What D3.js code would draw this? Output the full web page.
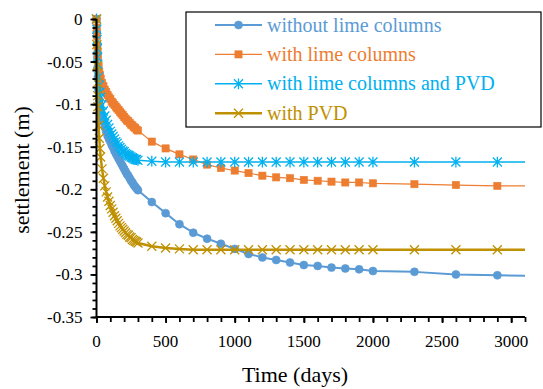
<!DOCTYPE html>
<html>
<head>
<meta charset="utf-8">
<script src="https://cdn.jsdelivr.net/npm/d3@7"></script>
<style>
  html, body { margin: 0; padding: 0; background: #fff; }
  #wrap { position: relative; width: 543px; height: 389px; }
  #chart { position: absolute; left: 0; top: 0; display: block; }
  #xTitle { position: absolute; left: 0; width: 590px; top: 362px; text-align: center;
    font-family: "Liberation Serif"; font-size: 22px; line-height: 26px; color: #000; white-space: nowrap; }
</style>
</head>
<body>
<div id="wrap">
  <svg id="chart" width="543" height="389"></svg>
  <div id="xTitle"></div>
</div>
<script>
// Time steps (days) shared by all four settlement series
const days = [0, 2, 4, 6, 8, 10, 15, 20, 25, 30, 40, 50, 60, 70, 80, 90, 100, 110, 120, 130,
  140, 150, 160, 170, 180, 190, 200, 210, 220, 230, 240, 250, 260, 270, 280, 290, 300,
  400, 500, 600, 700, 800, 900, 1000, 1100, 1200, 1300, 1400, 1500, 1600, 1700, 1800, 1900, 2000,
  2300, 2600, 2900, 3200];

// Settlement (m), one value per time step
const withoutLime = [0, -0.015, -0.03, -0.045, -0.057, -0.068, -0.084, -0.095, -0.101, -0.107,
  -0.115, -0.121, -0.127, -0.132, -0.137, -0.141, -0.144, -0.148, -0.151, -0.155,
  -0.158, -0.161, -0.164, -0.167, -0.170, -0.173, -0.176, -0.179, -0.182, -0.184,
  -0.187, -0.190, -0.192, -0.195, -0.197, -0.199, -0.201,
  -0.215, -0.228, -0.241, -0.251, -0.258, -0.264, -0.270, -0.276, -0.280, -0.283, -0.286, -0.289,
  -0.290, -0.292, -0.293, -0.294, -0.296, -0.297, -0.300, -0.301, -0.302];

const withLime = [0, -0.010, -0.020, -0.030, -0.038, -0.045, -0.055, -0.062, -0.066, -0.070,
  -0.075, -0.079, -0.083, -0.086, -0.089, -0.092, -0.094, -0.097, -0.099, -0.101,
  -0.103, -0.105, -0.107, -0.109, -0.111, -0.113, -0.115, -0.117, -0.119, -0.120,
  -0.122, -0.124, -0.125, -0.127, -0.128, -0.130, -0.131,
  -0.144, -0.152, -0.159, -0.165, -0.171, -0.175, -0.178, -0.181, -0.184, -0.186, -0.187, -0.189,
  -0.190, -0.191, -0.192, -0.192, -0.193, -0.194, -0.195, -0.196, -0.196];

const withLimePVD = [0, -0.012, -0.024, -0.035, -0.045, -0.053, -0.068, -0.078, -0.086, -0.092,
  -0.101, -0.108, -0.114, -0.119, -0.124, -0.128, -0.132, -0.135, -0.138, -0.141,
  -0.144, -0.146, -0.149, -0.151, -0.153, -0.155, -0.156, -0.158, -0.159, -0.160,
  -0.161, -0.162, -0.163, -0.164, -0.165, -0.165, -0.166,
  -0.167, -0.168, -0.168, -0.168, -0.168, -0.168, -0.168, -0.168, -0.168, -0.168, -0.168, -0.168,
  -0.168, -0.168, -0.168, -0.168, -0.168, -0.168, -0.168, -0.168, -0.168];

const withPVD = [0, -0.030, -0.055, -0.075, -0.090, -0.103, -0.125, -0.140, -0.152, -0.162,
  -0.176, -0.187, -0.196, -0.203, -0.209, -0.214, -0.219, -0.223, -0.227, -0.231,
  -0.234, -0.237, -0.240, -0.243, -0.245, -0.247, -0.249, -0.251, -0.253, -0.254,
  -0.256, -0.257, -0.259, -0.260, -0.261, -0.262, -0.263,
  -0.267, -0.269, -0.270, -0.271, -0.271, -0.271, -0.271, -0.271, -0.271, -0.271, -0.271, -0.271,
  -0.271, -0.271, -0.271, -0.271, -0.271, -0.271, -0.271, -0.271, -0.271];

const seriesNames = ["without lime columns", "with lime columns", "with lime columns and PVD", "with PVD"];
const xTicks = [0, 500, 1000, 1500, 2000, 2500, 3000];
const yTicks = [0, -0.05, -0.1, -0.15, -0.2, -0.25, -0.3, -0.35];

const series = [
  { name: seriesNames[0], values: withoutLime, color: "#5B9BD5", width: 2, marker: "circle" },
  { name: seriesNames[1], values: withLime, color: "#ED7D31", width: 1.2, marker: "square" },
  { name: seriesNames[2], values: withLimePVD, color: "#00B0F0", width: 1.5, marker: "star" },
  { name: seriesNames[3], values: withPVD, color: "#BF9000", width: 2.5, marker: "cross" }
];

const FONT = "Liberation Serif";
const svg = d3.select("#chart");
const x = d3.scaleLinear().domain([0, 3100]).range([96.5, 525]);
const y = d3.scaleLinear().domain([0, -0.35]).range([19, 317]);

d3.select("#xTitle").text("Time (days)");

function label(parent, txt, size, color) {
  return parent.append("text")
    .attr("font-family", FONT)
    .attr("font-size", size)
    .attr("fill", color)
    .text(txt);
}

// Clip everything past the end of the time axis
svg.append("defs").append("clipPath").attr("id", "plotClip")
  .append("rect").attr("x", 0).attr("y", 0).attr("width", 525).attr("height", 389);

// Marker drawing
function drawMarker(g, type, color) {
  if (type === "circle") {
    g.append("circle").attr("r", 4).attr("fill", color).attr("stroke", color).attr("stroke-width", 0.6);
  } else if (type === "square") {
    g.append("rect").attr("x", -3.6).attr("y", -3.6).attr("width", 7.2).attr("height", 7.2)
      .attr("fill", color).attr("stroke", color).attr("stroke-width", 0.6);
  } else if (type === "star") {
    const r = 4.5;
    g.append("path")
      .attr("d", `M${-r},${-r}L${r},${r}M${-r},${r}L${r},${-r}M0,${-r * 1.2}L0,${r * 1.2}`)
      .attr("stroke", color).attr("stroke-width", 1.3).attr("fill", "none");
  } else if (type === "cross") {
    const r = 4.5;
    g.append("path")
      .attr("d", `M${-r},${-r}L${r},${r}M${-r},${r}L${r},${-r}`)
      .attr("stroke", color).attr("stroke-width", 1.3).attr("fill", "none");
  }
}

const plot = svg.append("g").attr("clip-path", "url(#plotClip)");
const line = d3.line().x((d, i) => x(days[i])).y(d => y(d));

series.forEach(s => {
  const g = plot.append("g");
  g.append("path").datum(s.values).attr("d", line)
    .attr("fill", "none").attr("stroke", s.color).attr("stroke-width", s.width)
    .attr("stroke-linejoin", "round");
  g.selectAll("g.m").data(s.values).enter().append("g").attr("class", "m")
    .attr("transform", (d, i) => `translate(${x(days[i])},${y(d)})`)
    .each(function () { drawMarker(d3.select(this), s.marker, s.color); });
});

// Axes: tick lines from d3 axes, labels as separate text
const xAxis = svg.append("g").attr("transform", "translate(0,317)");
xAxis.append("g").call(d3.axisBottom(x).tickValues(d3.range(0, 3101, 100)).tickSize(5).tickFormat(""))
  .call(g => g.select(".domain").remove());
xAxis.append("g").call(d3.axisBottom(x).tickValues(xTicks).tickSize(6).tickFormat(""))
  .call(g => g.select(".domain").remove());
xAxis.selectAll("line").attr("stroke", "#000").attr("stroke-width", 1.8);
xAxis.append("line").attr("x1", 96.5).attr("x2", 525).attr("stroke", "#000").attr("stroke-width", 2);
xTicks.forEach(t => {
  label(xAxis, d3.format("d")(t), 17, "#000").attr("x", x(t)).attr("y", 30).attr("text-anchor", "middle");
});

const yAxis = svg.append("g").attr("transform", "translate(96.5,0)");
yAxis.append("g").call(d3.axisLeft(y).tickValues(d3.range(0, 36).map(i => -i / 100)).tickSize(4).tickFormat(""))
  .call(g => g.select(".domain").remove());
yAxis.append("g").call(d3.axisLeft(y).tickValues(yTicks).tickSize(6).tickFormat(""))
  .call(g => g.select(".domain").remove());
yAxis.selectAll("line").attr("stroke", "#000").attr("stroke-width", 1.8);
yAxis.append("line").attr("y1", 19).attr("y2", 317).attr("stroke", "#000").attr("stroke-width", 2);
yTicks.forEach(t => {
  label(yAxis, t === 0 ? "0" : String(t), 17, "#000").attr("x", -14).attr("y", y(t) + 6).attr("text-anchor", "end");
});

// Vertical axis title
label(svg, "settlement (m)", 22, "#000").attr("transform", "translate(29,170) rotate(-90)").attr("text-anchor", "middle");

// Legend
const legend = svg.append("g");
legend.append("rect").attr("x", 186).attr("y", 12).attr("width", 355).attr("height", 115)
  .attr("fill", "#fff").attr("stroke", "#000").attr("stroke-width", 1.2);
series.forEach((s, i) => {
  const ly = 25 + i * 29.4;
  const row = legend.append("g").attr("transform", `translate(0,${ly})`);
  row.append("line").attr("x1", 215).attr("x2", 262).attr("y1", 0).attr("y2", 0)
    .attr("stroke", s.color).attr("stroke-width", s.width);
  drawMarker(row.append("g").attr("transform", "translate(238.5,0)"), s.marker, s.color);
  label(row, s.name, 20, s.color).attr("x", 267).attr("y", 6.5);
});
</script>
</body>
</html>
